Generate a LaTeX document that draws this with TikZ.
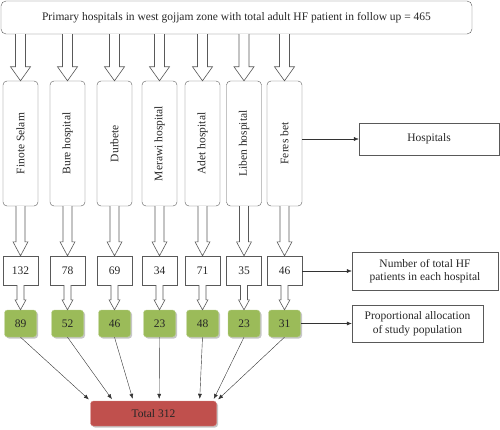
\documentclass[tikz,border=0pt]{standalone}
\usepackage{fontspec}
\setmainfont{Liberation Serif}
\usepackage{tikz}
\usetikzlibrary{arrows.meta,calc,positioning,shadows}
\definecolor{boxgreen}{HTML}{9BBB59}
\definecolor{boxred}{HTML}{C0504D}
\tikzset{
  every node/.style={font=\fontsize{11.5}{13.5}\selectfont,text=black!85},
  topbox/.style={draw=gray!70!black,rounded corners=5pt,minimum width=471pt,minimum height=33pt},
  hospbox/.style={draw=gray!70!black,rounded corners=4pt,minimum width=35pt,minimum height=125pt},
  numbox/.style={draw=gray!70!black,minimum width=35pt,minimum height=29pt},
  greenbox/.style={draw=boxgreen!70!white,fill=boxgreen,rounded corners=3pt,minimum width=32pt,minimum height=27pt,
    drop shadow={shadow xshift=1.5pt,shadow yshift=-1.5pt,fill=gray!45,opacity=1}},
  totalbox/.style={draw=boxred!70!white,fill=boxred,rounded corners=3pt,minimum width=126pt,minimum height=25pt,
    drop shadow={shadow xshift=1.5pt,shadow yshift=-1.5pt,fill=gray!45,opacity=1}},
  sidebox/.style={draw=gray!70!black,align=center},
  hollow/.style={draw=gray!70!black,fill=white,line width=0.6pt},
  thin/.style={-{Latex[length=5pt,width=4pt]},black!80,shorten >=2pt},
}
% hollow block arrow: start, end, shaft half width, head half width, head length
\newcommand{\blockarrow}[5]{%
  \draw[hollow] ($(#1)+(-#3,0)$) -- ($(#2)+(-#3,-#5)$) -- ($(#2)+(-#4,-#5)$) -- (#2)
    -- ($(#2)+(#4,-#5)$) -- ($(#2)+(#3,-#5)$) -- ($(#1)+(#3,0)$);
}
\begin{document}
\begin{tikzpicture}[x=1pt,y=-1pt]
\useasboundingbox (0,0) rectangle (500,430);
\node[topbox] (top) at (236.5,17.5) {Primary hospitals in west gojjam zone with total adult HF patient in follow up = 465};

% hospitals, counts and allocations
\foreach \i/\x/\name/\n/\g in {1/20.5/Finote Selam/132/89, 2/67.5/Bure hospital/78/52, 3/114.5/Durbete/69/46,
    4/159.5/Merawi hospital/34/23, 5/202.5/Adet hospital/71/48, 6/244/Liben hospital/35/23, 7/284.5/Feres bet/46/31}{
  \node[hospbox] (h\i) at (\x,143.5) {\rotatebox{90}{\name}};
  \node[numbox] (n\i) at (\x,270.5) {\n};
  \node[greenbox] (g\i) at (\x,323.5) {\g};
  \coordinate (t\i) at (top.south -| h\i.north);
  \blockarrow{t\i}{h\i.north}{5}{10}{14}
  \blockarrow{h\i.south}{n\i.north}{4.5}{7.5}{14}
  \blockarrow{n\i.south}{g\i.north}{3.5}{5.5}{10}
}

\node[totalbox] (total) at (153.5,413.5) {Total 312};

% side labels
\node[sidebox,minimum width=140pt,minimum height=32pt] (hosplabel) at (429,139) {Hospitals};
\node[sidebox,minimum width=146pt,minimum height=38pt] (numlabel) at (425,271) {Number of total HF\\patients in each hospital};
\node[sidebox,minimum width=131pt,minimum height=37pt] (proplabel) at (417.5,323.5) {Proportional allocation\\of study population};

\draw[thin,shorten >=0pt] (h7.east |- hosplabel.west) -- (hosplabel.west);
\draw[thin,shorten >=0pt] (n7.east |- numlabel.west) -- (numlabel.west);
\draw[thin,shorten >=0pt] (g7.east |- proplabel.west) -- (proplabel.west);

\foreach \i/\t in {1/0,2/0.18,3/0.34,4/0.545,5/0.865,6/0.97,7/1}
  \draw[thin] (g\i.south) -- ($(total.north west)!\t!(total.north east)$);
\end{tikzpicture}
\end{document}
